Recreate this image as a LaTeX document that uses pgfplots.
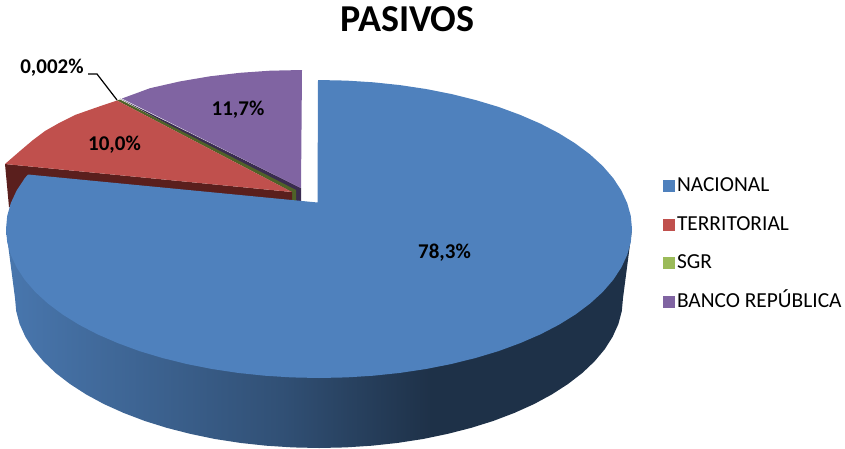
\documentclass[border=0pt]{standalone}
\usepackage{fontspec}
\setmainfont{Carlito}
\usepackage{pgfplots}
\pgfplotsset{compat=1.18}
\definecolor{nacional}{HTML}{4F81BD}
\definecolor{territorial}{HTML}{C0504D}
\definecolor{sgr}{HTML}{9BBB59}
\definecolor{banco}{HTML}{8064A2}
\definecolor{darkred}{HTML}{5A1F1D}
\definecolor{darkgreen}{HTML}{4F6228}
\definecolor{darkpurple}{HTML}{3A2C50}
\pgfdeclarehorizontalshading{sideblue}{100bp}{
  color(0bp)=(nacional!92!black);
  color(25bp)=(nacional!92!black);
  color(47bp)=(nacional!62!black);
  color(59bp)=(nacional!38!black);
  color(75bp)=(nacional!38!black);
  color(100bp)=(nacional!38!black)}
\begin{document}
\begin{tikzpicture}
\useasboundingbox (0,0) rectangle (845pt,448pt);
\begin{axis}[
  at={(0,0)}, anchor=south west,
  width=845pt, height=448pt, scale only axis,
  xmin=0, xmax=845, ymin=0, ymax=448,
  y dir=reverse,
  hide axis,
  clip=false,
  no markers,
  legend cell align=left,
  legend style={
    draw=none, fill=none, at={(axis cs:663,175.5)}, anchor=north west,
    font=\fontsize{21.4}{21.4}\selectfont, row sep=17.7pt,
    inner sep=0pt, outer sep=0pt,
    nodes={inner sep=2pt, text height=14pt, text depth=3pt}},
  legend image code/.code={\fill[draw=none,#1] (0pt,-6pt) rectangle (12pt,6pt);},
]
% cara lateral
\addplot[forget plot, draw=none, shading=sideblue] coordinates {
 (632,229) (623,298) (621.8,311.1) (618.4,324) (612.6,336.8) (604.7,349.3)
 (594.5,361.4) (582.3,373) (568,384) (551.9,394.4) (534,404.1) (514.4,412.9)
 (493.4,420.9) (471,427.9) (447.5,433.9) (423,439) (397.7,442.9) (371.8,445.7)
 (345.5,447.4) (319,448) (292.5,447.4) (266.2,445.7) (240.3,442.9) (215,439)
 (190.5,433.9) (167,427.9) (144.6,420.9) (123.6,412.9) (104,404.1) (86.1,394.4)
 (70,384) (55.7,373) (43.5,361.4) (33.3,349.3) (25.4,336.8) (19.6,324)
 (16.2,311.1) (15,298) (6,229)} --cycle;
% BANCO REPUBLICA, borde
\addplot[forget plot, draw=none, fill=darkpurple] coordinates {
 (120,98.5) (297,186) (301,188) (301,202) (294,201) (292,192)} --cycle;
% SGR, borde
\addplot[forget plot, draw=none, fill=darkgreen] coordinates {
 (117,100.5) (120,99.5) (296,190) (296,201) (292,201) (292,192)} --cycle;
% TERRITORIAL, borde
\addplot[forget plot, draw=none, fill=darkred] coordinates {
 (5,164) (292,192) (292,202) (20,210) (9,207)} --cycle;
% TERRITORIAL, cara
\addplot[forget plot, draw=none, fill=territorial] coordinates {
 (117,100.5) (105,104.5) (90,109.7) (75,115) (60,122.5) (45,131) (33,140)
 (20,151) (5,164) (292,192)} --cycle;
% BANCO REPUBLICA, cara
\addplot[forget plot, draw=none, fill=banco] coordinates {
 (302,70) (270,70.7) (240,72.8) (210,76.3) (180,81.4) (150,88.2) (122,98.5)
 (297,186) (301,188)} --cycle;
% NACIONAL, cara
\addplot[forget plot, draw=none, fill=nacional] coordinates {
 (318,80) (346.3,80.6) (373.3,82.3) (400,85.1) (426,89) (451.3,94) (475.5,100)
 (498.5,106.9) (520.2,114.9) (540.3,123.6) (558.8,133.2) (575.4,143.5)
 (590.1,154.5) (602.7,166) (613.1,178) (621.3,190.4) (627.2,203.1) (630.8,216)
 (632,229) (630.8,242) (627.2,254.9) (621.3,267.6) (613.1,280) (602.7,292)
 (590.1,303.5) (575.4,314.5) (558.8,324.8) (540.3,334.4) (520.2,343.1)
 (498.5,351.1) (475.5,358) (451.3,364) (426,369) (400,372.9) (373.3,375.7)
 (346.3,377.4) (319,378) (291.7,377.4) (264.7,375.7) (238,372.9) (212,369)
 (186.7,364) (162.5,358) (139.5,351.1) (117.8,343.1) (97.7,334.4) (79.2,324.8)
 (62.6,314.5) (47.9,303.5) (35.3,292) (24.9,280) (16.7,267.6) (10.8,254.9)
 (7.2,242) (6,229) (7.2,216) (10.8,203.1) (16.7,190.4) (24.9,178) (28,174.5)
 (317.5,202.5)} --cycle;
% linea guia de 0,002%
\addplot[forget plot, black, line width=1.2pt] coordinates {(88,74) (97,74) (117,100)};
\addlegendimage{fill=nacional}
\addlegendentry{NACIONAL}
\addlegendimage{fill=territorial}
\addlegendentry{TERRITORIAL}
\addlegendimage{fill=sgr}
\addlegendentry{SGR}
\addlegendimage{fill=banco}
\addlegendentry{BANCO REPÚBLICA}
\node[font=\fontsize{38}{38}\selectfont\bfseries] at (axis cs:407.5,19) {PASIVOS};
\node[font=\fontsize{21}{21}\selectfont\bfseries] at (axis cs:444.5,253) {78,3\%};
\node[font=\fontsize{21}{21}\selectfont\bfseries] at (axis cs:238,110) {11,7\%};
\node[font=\fontsize{21}{21}\selectfont\bfseries] at (axis cs:114.5,145) {10,0\%};
\node[font=\fontsize{21}{21}\selectfont\bfseries] at (axis cs:52,68) {0,002\%};
\end{axis}
\end{tikzpicture}
\end{document}
